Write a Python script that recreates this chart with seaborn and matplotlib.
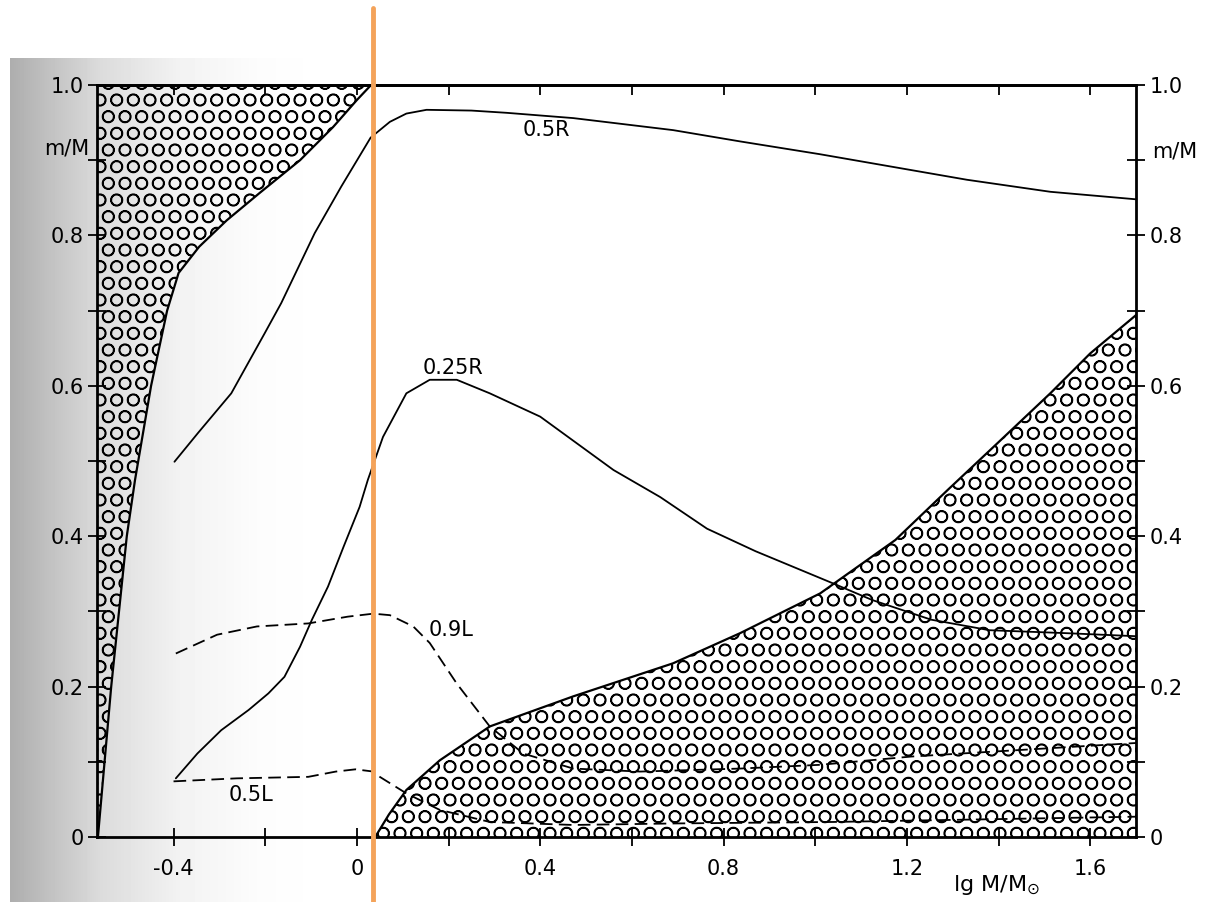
#!/usr/bin/env python3

import numpy as np
import pandas as pd
import seaborn as sns
import matplotlib
matplotlib.use('Agg')
import matplotlib.pyplot as plt
from matplotlib.lines import Line2D

# values (x = lg M/Msun, y = m/M)
# outer convection zone boundary
env_m = [0.0, 0.2, 0.4, 0.475, 0.6, 0.7, 0.75, 0.785, 0.82, 0.856, 0.90, 0.944, 0.98, 1.0]
env_lgm = [-0.565, -0.536, -0.502, -0.484, -0.449, -0.414, -0.389, -0.344, -0.284, -0.213, -0.124, -0.052, 0.0, 0.031]
# convective core boundary
core_lgm = [0.04, 0.07, 0.108, 0.181, 0.29, 0.472, 0.69, 0.836, 1.011, 1.175, 1.29, 1.40, 1.513, 1.60, 1.70]
core_m = [0.0, 0.03, 0.0625, 0.102, 0.147, 0.187, 0.231, 0.271, 0.324, 0.395, 0.462, 0.525, 0.59, 0.643, 0.694]

r05_lgm = [-0.398, -0.347, -0.274, -0.201, -0.165, -0.092, -0.034, 0.03, 0.072, 0.108, 0.152, 0.25, 0.327, 0.472, 0.69, 0.836, 1.01, 1.331, 1.513, 1.70]
r05_m = [0.499, 0.537, 0.59, 0.67, 0.71, 0.803, 0.865, 0.93, 0.951, 0.962, 0.967, 0.966, 0.963, 0.956, 0.940, 0.925, 0.908, 0.874, 0.858, 0.848]

r025_lgm = [-0.395, -0.348, -0.296, -0.236, -0.193, -0.158, -0.124, -0.098, -0.063, -0.029, 0.006, 0.024, 0.057, 0.108, 0.159, 0.218, 0.29, 0.40, 0.56, 0.662, 0.764, 0.87, 1.04, 1.125, 1.253, 1.38, 1.55, 1.70]
r025_m = [0.078, 0.111, 0.142, 0.169, 0.191, 0.213, 0.253, 0.289, 0.333, 0.386, 0.439, 0.475, 0.532, 0.59, 0.608, 0.608, 0.59, 0.559, 0.488, 0.452, 0.41, 0.38, 0.337, 0.315, 0.289, 0.275, 0.271, 0.267]

l09_lgm = [-0.395, -0.305, -0.218, -0.106, -0.02, 0.036, 0.072, 0.123, 0.159, 0.218, 0.29, 0.363, 0.472, 0.618, 0.836, 1.011, 1.21, 1.70]
l09_m = [0.244, 0.269, 0.28, 0.284, 0.293, 0.297, 0.295, 0.28, 0.258, 0.204, 0.147, 0.111, 0.091, 0.087, 0.091, 0.096, 0.107, 0.125]

l05_lgm = [-0.40, -0.262, -0.106, -0.046, -0.003, 0.036, 0.05, 0.108, 0.181, 0.29, 0.472, 0.69, 1.04, 1.70]
l05_m = [0.074, 0.078, 0.08, 0.087, 0.09, 0.087, 0.08, 0.058, 0.036, 0.02, 0.016, 0.018, 0.02, 0.027]

curve_names = ['0.5R', '0.25R', '0.9L', '0.5L']
curve_labels_pos = {'0.5R': (0.414, 0.94), '0.25R': (0.21, 0.624), '0.9L': (0.205, 0.275), '0.5L': (-0.231, 0.056)}

xticks_all = [-0.4, -0.2, 0, 0.2, 0.4, 0.6, 0.8, 1.0, 1.2, 1.4, 1.6]
xtick_labels = ['-0.4', '', '0', '', '0.4', '', '0.8', '', '1.2', '', '1.6']
yticks_all = [0, 0.1, 0.2, 0.3, 0.4, 0.5, 0.6, 0.7, 0.8, 0.9, 1.0]
ytick_labels = ['0', '', '0.2', '', '0.4', '', '0.6', '', '0.8', '', '1.0']

frames = []
for name, xs, ys in zip(curve_names, [r05_lgm, r025_lgm, l09_lgm, l05_lgm], [r05_m, r025_m, l09_m, l05_m]):
    frames.append(pd.DataFrame({'lgM': xs, 'm': ys, 'curve': name}))
df = pd.concat(frames, ignore_index=True)

sns.set_style('ticks', {'axes.edgecolor': 'k', 'text.color': 'k', 'xtick.color': 'k', 'ytick.color': 'k'})
plt.rcParams['font.family'] = ['DejaVu Sans']
plt.rcParams['hatch.linewidth'] = 1.1
plt.rcParams['hatch.color'] = 'k'

fig = plt.figure(figsize=(12.1, 9.02), dpi=100)

# scan shadow on the left of the page
bg = fig.add_axes([0, 0, 1, 1], zorder=-1)
W, H = 1210, 902
cols = np.arange(W)
shade = np.interp(cols, [0, 9, 10, 40, 100, 180, 260, 330], [1, 1, 0.68, 0.74, 0.86, 0.95, 0.99, 1.0])
img = np.tile(shade, (H, 1))
img[:58, :] = 1.0
bg.imshow(img, cmap='gray', vmin=0, vmax=1, extent=[0, W, H, 0], aspect='auto')
bg.set_axis_off()

ax = fig.add_axes([97/1210, 1-837/902, (1136-97)/1210, (837-85)/902])
ax.patch.set_alpha(0)

# convection zones
ax.fill_betweenx(env_m, -0.567, env_lgm, facecolor='none', edgecolor='k', hatch='O', lw=0)
ax.fill_between(core_lgm, 0, core_m, facecolor='none', edgecolor='k', hatch='O', lw=0)
ax.plot(env_lgm, env_m, color='k', lw=1.6)
ax.plot(core_lgm, core_m, color='k', lw=1.6)

sns.lineplot(data=df, x='lgM', y='m', hue='curve', style='curve',
             palette={n: 'k' for n in curve_names},
             dashes={'0.5R': '', '0.25R': '', '0.9L': (7, 3.5), '0.5L': (7, 3.5)},
             estimator=None, sort=True, legend=False, lw=1.3, ax=ax)

for name in curve_names:
    lx, ly = curve_labels_pos[name]
    ax.text(lx, ly, name, ha='center', va='center', fontsize=15)

ax.set_xlim(-0.567, 1.70)
ax.set_ylim(0, 1)
ax.set_xlabel('')
ax.set_ylabel('')

ax.set_xticks(xticks_all)
ax.set_xticklabels(xtick_labels)
ax.set_yticks(yticks_all)
ax.set_yticklabels(ytick_labels)
ax.tick_params(axis='x', direction='inout', length=13, width=1.3, labelsize=15, pad=9)
ax.tick_params(axis='y', direction='inout', length=13, width=1.3, labelsize=15, pad=3,
               right=True, labelright=True)

top = ax.secondary_xaxis('top')
top.set_xticks(xticks_all)
top.set_xticklabels([])
top.tick_params(direction='in', length=7, width=1.3)
for sp in top.spines.values():
    sp.set_linewidth(2)

for sp in ax.spines.values():
    sp.set_linewidth(2)
    sp.set_visible(True)

ax.text(-0.583, 0.916, 'm/M', ha='right', va='center', fontsize=15)
ax.text(1.736, 0.912, 'm/M', ha='left', va='center', fontsize=15)
ax.text(1.395, -0.064, r'lg M/M$_{\odot}$', ha='center', va='center', fontsize=16)

# orange marker line across the page
fig.add_artist(Line2D([373/1210, 373/1210], [0, 1-8/902], transform=fig.transFigure,
                      color='#F4A35A', lw=3.5, zorder=10))

fig.savefig('out.png', dpi=100)
